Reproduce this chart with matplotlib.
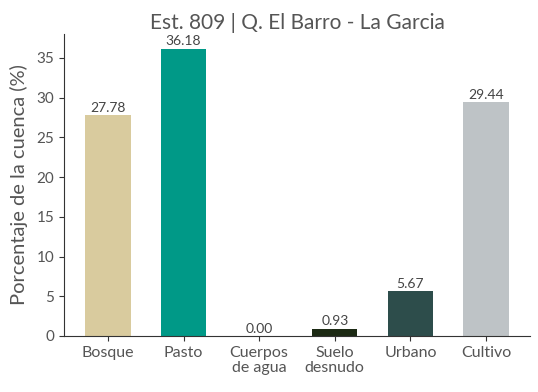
import numpy as np
import matplotlib.pyplot as plt

plt.rcParams['font.family'] = ['Lato', 'DejaVu Sans']

categorias = ['Bosque', 'Pasto', 'Cuerpos\nde agua', 'Suelo\ndesnudo', 'Urbano', 'Cultivo']
porcentajes = [27.78, 36.18, 0.00, 0.93, 5.67, 29.44]
colores = ['#D9CB9E', '#009987', '#4A7FB0', '#1C2A14', '#2D4D4B', '#BEC3C6']
gris = '#555555'

fig = plt.figure(figsize=(5.38, 3.92), dpi=100)
ax = fig.add_axes([0.119, 0.143, 0.866, 0.770])

x = np.arange(len(categorias))
bars = ax.bar(x, porcentajes, width=0.6, color=colores)
ax.bar_label(bars, labels=['%.2f' % v for v in porcentajes], padding=1,
             fontsize=10, color='#444444')

ax.set_xticks(x)
ax.set_xticklabels(categorias, fontsize=11.5, color=gris, linespacing=1.1)
ax.set_ylim(0, 38)
ax.set_yticks(range(0, 36, 5))
ax.tick_params(axis='y', labelsize=11, labelcolor=gris, color='#333333')
ax.tick_params(axis='x', color='#333333')
ax.set_ylabel('Porcentaje de la cuenca (%)', fontsize=14.5, color=gris, labelpad=6)
ax.set_title('Est. 809 | Q. El Barro - La Garcia', fontsize=15, color=gris, pad=4)

for s in ['top', 'right']:
    ax.spines[s].set_visible(False)
for s in ['left', 'bottom']:
    ax.spines[s].set_color('#333333')
    ax.spines[s].set_linewidth(0.8)

plt.savefig('out.png', dpi=100)
